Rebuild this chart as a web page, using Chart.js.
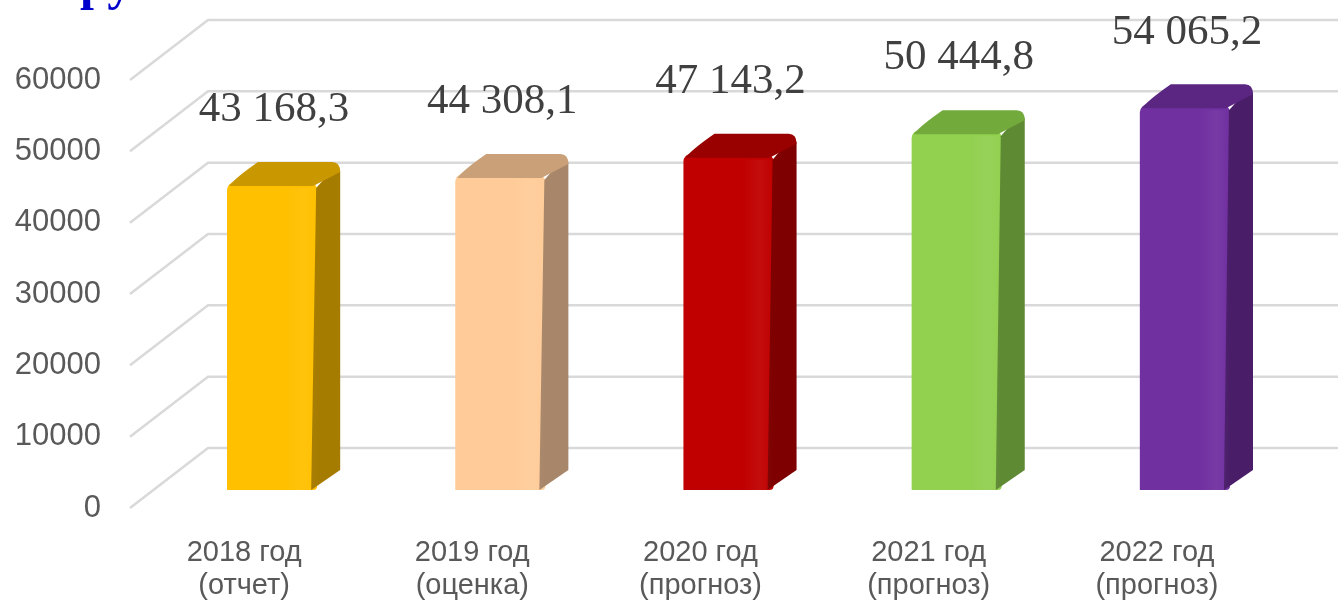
<!DOCTYPE html>
<html>
<head>
<meta charset="utf-8">
<script src="https://cdn.jsdelivr.net/npm/chart.js@4.4.0/dist/chart.umd.min.js"></script>
<style>
  html, body { margin: 0; padding: 0; background: #fff; }
  #wrap { width: 1338px; height: 602px; position: relative; }
</style>
</head>
<body>
<div id="wrap"><canvas id="budgetChart"></canvas></div>
<script>
const categories = [
    ['2018 год', '(отчет)'],
    ['2019 год', '(оценка)'],
    ['2020 год', '(прогноз)'],
    ['2021 год', '(прогноз)'],
    ['2022 год', '(прогноз)']
];
const values = [43168.3, 44308.1, 47143.2, 50444.8, 54065.2];
const frontColors = ['#FFC000', '#FFCC99', '#C00000', '#92D050', '#7030A0'];
const sideColors = ['#A67C00', '#A8866A', '#7E0000', '#5F8A34', '#4A1D69'];
const topColors = ['#C99700', '#C9A078', '#990000', '#72AA3C', '#5A2682'];
const yTicks = [0, 10000, 20000, 30000, 40000, 50000, 60000];

// oblique projection offsets
const WALL_DX = 78, WALL_DY = -60;   // front edge -> back wall
const BAR_DX = 28, BAR_DY = -18;     // front edge -> bar front face
const DEPTH_DX = 23, DEPTH_DY = -20; // bar front -> bar back

const fmt = (v) => {
    const parts = v.toFixed(1).split('.');
    const int = parts[0].replace(/\B(?=(\d{3})+(?!\d))/g, ' ');
    return int + ',' + parts[1];
};

const threeD = {
    id: 'threeD',
    beforeDatasetsDraw(chart) {
        const { ctx, chartArea, scales } = chart;
        const y = scales.y;
        ctx.save();
        ctx.strokeStyle = '#D9D9D9';
        ctx.lineWidth = 2.5;
        yTicks.forEach(v => {
            const py = y.getPixelForValue(v);
            ctx.beginPath();
            ctx.moveTo(chartArea.left, py);
            ctx.lineTo(chartArea.left + WALL_DX, py + WALL_DY);
            ctx.lineTo(chart.width, py + WALL_DY);
            ctx.stroke();
        });
        ctx.restore();

        // cut-off heading fragment at the very top
        ctx.save();
        ctx.fillStyle = '#0000CC';
        ctx.font = 'bold 50px "Liberation Serif"';
        ctx.textBaseline = 'alphabetic';
        ctx.fillText('ру', 80, -1);
        ctx.restore();

        ctx.save();
        ctx.translate(BAR_DX, BAR_DY);
    },
    afterDatasetsDraw(chart) {
        const { ctx } = chart;
        const meta = chart.getDatasetMeta(0);
        meta.data.forEach((bar, i) => {
            const left = bar.x - bar.width / 2;
            const right = bar.x + bar.width / 2;
            const top = bar.y;
            const bottom = bar.base;

            // side face
            ctx.fillStyle = sideColors[i];
            ctx.beginPath();
            ctx.moveTo(right - 1, top + 6);
            ctx.quadraticCurveTo(right + DEPTH_DX, top + DEPTH_DY - 2, right + DEPTH_DX, top + DEPTH_DY + 10);
            ctx.lineTo(right + DEPTH_DX, bottom + DEPTH_DY);
            ctx.lineTo(right - 6, bottom);
            ctx.closePath();
            ctx.fill();

            // top face
            ctx.fillStyle = topColors[i];
            ctx.beginPath();
            ctx.moveTo(left + 2, top + 4);
            ctx.quadraticCurveTo(left + 8, top - 4, left + DEPTH_DX + 8, top + DEPTH_DY);
            ctx.lineTo(right + DEPTH_DX - 8, top + DEPTH_DY);
            ctx.quadraticCurveTo(right + DEPTH_DX, top + DEPTH_DY, right + DEPTH_DX, top + DEPTH_DY + 10);
            ctx.lineTo(right - 4, top + 4);
            ctx.closePath();
            ctx.fill();

            // soft highlight strip on the front face
            const g = ctx.createLinearGradient(left, 0, right, 0);
            g.addColorStop(0, 'rgba(255,255,255,0)');
            g.addColorStop(0.65, 'rgba(255,255,255,0)');
            g.addColorStop(0.85, 'rgba(255,255,255,0.05)');
            g.addColorStop(1, 'rgba(255,255,255,0)');
            ctx.fillStyle = g;
            ctx.fillRect(left, top + 6, bar.width, bottom - top - 6);
        });
        ctx.restore();

        // value labels
        ctx.save();
        ctx.fillStyle = '#404040';
        ctx.font = '43px "Liberation Serif"';
        ctx.textAlign = 'center';
        ctx.textBaseline = 'middle';
        meta.data.forEach((bar, i) => {
            ctx.fillText(fmt(values[i]), bar.x + BAR_DX + 2, bar.y + BAR_DY - 72);
        });
        ctx.restore();
    }
};

new Chart(document.getElementById('budgetChart'), {
    type: 'bar',
    data: {
        labels: categories,
        datasets: [{
            data: values,
            backgroundColor: frontColors,
            borderWidth: 0,
            borderRadius: { topLeft: 8, topRight: 8, bottomLeft: 0, bottomRight: 4 },
            borderSkipped: false,
            barPercentage: 0.395,
            categoryPercentage: 1
        }]
    },
    options: {
        responsive: true,
        maintainAspectRatio: false,
        animation: false,
        layout: {
            padding: { top: 80, right: 67, bottom: 0, left: 0 }
        },
        plugins: {
            legend: { display: false },
            tooltip: { enabled: false }
        },
        scales: {
            y: {
                min: 0,
                max: 60000,
                border: { display: false },
                grid: { display: false },
                afterFit: (s) => { s.width = 130; },
                ticks: {
                    stepSize: 10000,
                    padding: 21,
                    color: '#595959',
                    font: { family: '"Liberation Sans", Arial', size: 31 },
                    callback: (value) => String(value)
                }
            },
            x: {
                border: { display: false },
                grid: { display: false },
                afterFit: (s) => { s.height = 94; },
                ticks: {
                    padding: 20,
                    color: '#595959',
                    font: { family: '"Liberation Sans", Arial', size: 29, lineHeight: 1.15 }
                }
            }
        }
    },
    plugins: [threeD]
});
</script>
</body>
</html>
